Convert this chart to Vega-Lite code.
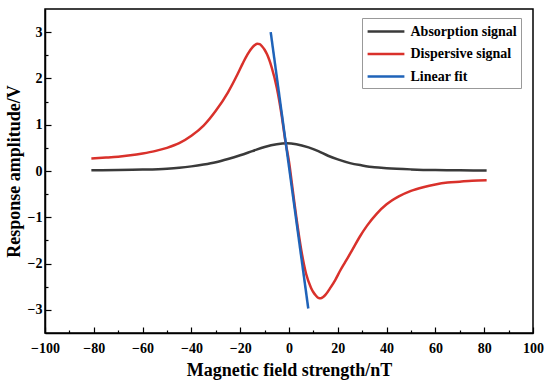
{
  "$schema": "https://vega.github.io/schema/vega-lite/v6.json",
  "width": 488,
  "height": 324,
  "autosize": {"type": "none"},
  "padding": {"left": 45, "top": 9, "right": 17, "bottom": 51},
  "background": "white",
  "config": {
    "view": {"stroke": "black", "strokeWidth": 1.5},
    "font": "Liberation Serif",
    "axis": {"grid": false, "domainColor": "black", "domainWidth": 1.5, "tickColor": "black", "tickWidth": 1.2,
      "labelFont": "Liberation Serif", "labelFontWeight": "bold", "labelFontSize": 14, "labelColor": "black",
      "titleFont": "Liberation Serif", "titleFontWeight": "bold", "titleFontSize": 18, "titleColor": "black", "labelOverlap": false}
  },
  "data": {"values": [
    {"s": "Absorption signal", "x": -81, "y": 0.015},
    {"s": "Absorption signal", "x": -70, "y": 0.02},
    {"s": "Absorption signal", "x": -60, "y": 0.03},
    {"s": "Absorption signal", "x": -50, "y": 0.05},
    {"s": "Absorption signal", "x": -45, "y": 0.07},
    {"s": "Absorption signal", "x": -40, "y": 0.1},
    {"s": "Absorption signal", "x": -35, "y": 0.14},
    {"s": "Absorption signal", "x": -30, "y": 0.19},
    {"s": "Absorption signal", "x": -25, "y": 0.26},
    {"s": "Absorption signal", "x": -20, "y": 0.34},
    {"s": "Absorption signal", "x": -15, "y": 0.43},
    {"s": "Absorption signal", "x": -10, "y": 0.52},
    {"s": "Absorption signal", "x": -5, "y": 0.58},
    {"s": "Absorption signal", "x": -1, "y": 0.6},
    {"s": "Absorption signal", "x": 3, "y": 0.58},
    {"s": "Absorption signal", "x": 8, "y": 0.51},
    {"s": "Absorption signal", "x": 12, "y": 0.43},
    {"s": "Absorption signal", "x": 16, "y": 0.33},
    {"s": "Absorption signal", "x": 20, "y": 0.25},
    {"s": "Absorption signal", "x": 25, "y": 0.17},
    {"s": "Absorption signal", "x": 30, "y": 0.12},
    {"s": "Absorption signal", "x": 35, "y": 0.08},
    {"s": "Absorption signal", "x": 40, "y": 0.06},
    {"s": "Absorption signal", "x": 50, "y": 0.035},
    {"s": "Absorption signal", "x": 60, "y": 0.02},
    {"s": "Absorption signal", "x": 70, "y": 0.015},
    {"s": "Absorption signal", "x": 81, "y": 0.01},
    {"s": "Dispersive signal", "x": -81, "y": 0.27},
    {"s": "Dispersive signal", "x": -75, "y": 0.29},
    {"s": "Dispersive signal", "x": -70, "y": 0.31},
    {"s": "Dispersive signal", "x": -65, "y": 0.34},
    {"s": "Dispersive signal", "x": -60, "y": 0.38},
    {"s": "Dispersive signal", "x": -55, "y": 0.43},
    {"s": "Dispersive signal", "x": -50, "y": 0.5},
    {"s": "Dispersive signal", "x": -45, "y": 0.6},
    {"s": "Dispersive signal", "x": -40, "y": 0.76},
    {"s": "Dispersive signal", "x": -35, "y": 0.98},
    {"s": "Dispersive signal", "x": -30, "y": 1.3},
    {"s": "Dispersive signal", "x": -25, "y": 1.7},
    {"s": "Dispersive signal", "x": -21, "y": 2.1},
    {"s": "Dispersive signal", "x": -19, "y": 2.32},
    {"s": "Dispersive signal", "x": -17, "y": 2.52},
    {"s": "Dispersive signal", "x": -15, "y": 2.67},
    {"s": "Dispersive signal", "x": -14, "y": 2.72},
    {"s": "Dispersive signal", "x": -13, "y": 2.75},
    {"s": "Dispersive signal", "x": -12, "y": 2.74},
    {"s": "Dispersive signal", "x": -11, "y": 2.69},
    {"s": "Dispersive signal", "x": -10, "y": 2.62},
    {"s": "Dispersive signal", "x": -9, "y": 2.52},
    {"s": "Dispersive signal", "x": -7, "y": 2.22},
    {"s": "Dispersive signal", "x": -5, "y": 1.8},
    {"s": "Dispersive signal", "x": -3, "y": 1.2},
    {"s": "Dispersive signal", "x": -1.5, "y": 0.65},
    {"s": "Dispersive signal", "x": 0, "y": 0.2},
    {"s": "Dispersive signal", "x": 1.5, "y": -0.4},
    {"s": "Dispersive signal", "x": 3, "y": -1.0},
    {"s": "Dispersive signal", "x": 5, "y": -1.7},
    {"s": "Dispersive signal", "x": 7, "y": -2.22},
    {"s": "Dispersive signal", "x": 9, "y": -2.52},
    {"s": "Dispersive signal", "x": 10, "y": -2.62},
    {"s": "Dispersive signal", "x": 11, "y": -2.69},
    {"s": "Dispersive signal", "x": 12, "y": -2.74},
    {"s": "Dispersive signal", "x": 13, "y": -2.75},
    {"s": "Dispersive signal", "x": 14, "y": -2.72},
    {"s": "Dispersive signal", "x": 15, "y": -2.67},
    {"s": "Dispersive signal", "x": 17, "y": -2.52},
    {"s": "Dispersive signal", "x": 19, "y": -2.35},
    {"s": "Dispersive signal", "x": 21, "y": -2.15},
    {"s": "Dispersive signal", "x": 23, "y": -1.97},
    {"s": "Dispersive signal", "x": 26, "y": -1.7},
    {"s": "Dispersive signal", "x": 29, "y": -1.42},
    {"s": "Dispersive signal", "x": 32, "y": -1.18},
    {"s": "Dispersive signal", "x": 36, "y": -0.92},
    {"s": "Dispersive signal", "x": 40, "y": -0.72},
    {"s": "Dispersive signal", "x": 45, "y": -0.55},
    {"s": "Dispersive signal", "x": 50, "y": -0.43},
    {"s": "Dispersive signal", "x": 55, "y": -0.35},
    {"s": "Dispersive signal", "x": 60, "y": -0.29},
    {"s": "Dispersive signal", "x": 65, "y": -0.25},
    {"s": "Dispersive signal", "x": 70, "y": -0.23},
    {"s": "Dispersive signal", "x": 75, "y": -0.21},
    {"s": "Dispersive signal", "x": 81, "y": -0.2},
    {"s": "Linear fit", "x": -7.5, "y": 3.0},
    {"s": "Linear fit", "x": 7.9, "y": -2.97}
  ]},
  "mark": {"type": "line", "strokeWidth": 2.5, "interpolate": "monotone", "clip": true},
  "encoding": {
    "x": {"field": "x", "type": "quantitative",
      "scale": {"domain": [-100, 100], "nice": false},
      "axis": {"title": "Magnetic field strength/nT",
        "values": [-100,-90,-80,-70,-60,-50,-40,-30,-20,-10,0,10,20,30,40,50,60,70,80,90,100],
        "labelExpr": "datum.value % 20 === 0 ? datum.label : ''",
        "tickSize": {"condition": {"test": "datum.value % 20 !== 0", "value": -3}, "value": -6},
        "labelPadding": 14, "labelFlush": false,
        "titleY": 42, "titleBaseline": "alphabetic"}},
    "y": {"field": "y", "type": "quantitative",
      "scale": {"domain": [-3.5, 3.5], "nice": false, "zero": false},
      "axis": {"title": "Response amplitude/V",
        "values": [-3,-2.5,-2,-1.5,-1,-0.5,0,0.5,1,1.5,2,2.5,3],
        "labelExpr": "datum.value % 1 === 0 ? format(datum.value, 'd') : ''",
        "tickSize": {"condition": {"test": "datum.value % 1 !== 0", "value": -3}, "value": -6},
        "labelPadding": 9,
        "titleX": -26, "titleY": 162, "titleBaseline": "alphabetic"}},
    "color": {"field": "s", "type": "nominal",
      "scale": {"domain": ["Absorption signal", "Dispersive signal", "Linear fit"], "range": ["#3a3a3a", "#d9312b", "#1f63b9"]},
      "legend": {"title": null, "orient": "none", "legendX": 317, "legendY": 9,
        "symbolType": "M-2.3,0H2.3", "symbolSize": 256, "symbolStrokeWidth": 2.5, "symbolOffset": 10.5,
        "labelFont": "Liberation Serif", "labelFontWeight": "bold", "labelFontSize": 14, "labelColor": "black",
        "labelOffset": 15, "rowPadding": 5.5, "padding": 4, "strokeColor": "#999999", "fillColor": "white"}}
  }
}
